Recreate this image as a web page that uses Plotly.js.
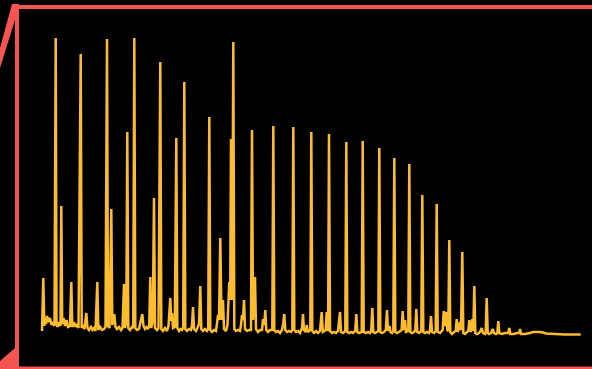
<!DOCTYPE html>
<html>
<head>
<meta charset="utf-8">
<script src="https://cdn.plot.ly/plotly-3.0.1.min.js"></script>
<style>
  html, body { margin: 0; padding: 0; background: #000; }
  #chart { width: 592px; height: 369px; }
</style>
</head>
<body>
<div id="chart"></div>
<script>
// Retention time (min) and detector signal (a.u.)
const retentionTime = [
  4.2, 4.33, 4.43, 4.5, 4.6, 4.7, 4.85, 5.0, 5.15, 5.3, 5.45, 5.57, 5.65, 5.75, 5.9, 6.05, 6.13, 6.22, 6.35, 6.5,
  6.65, 6.8, 7.0, 7.13, 7.23, 7.4, 7.55, 7.7, 7.85, 8.07, 8.17, 8.3, 8.45, 8.63, 8.75, 8.9, 9.1, 9.25, 9.4, 9.55,
  9.73, 9.83, 10.0, 10.2, 10.4, 10.55, 10.7, 10.8, 10.95, 11.13, 11.23, 11.43, 11.55, 11.7, 11.9, 12.1, 12.25, 12.4, 12.5, 12.63,
  12.73, 12.83, 13.0, 13.2, 13.32, 13.43, 13.53, 13.7, 13.9, 14.05, 14.23, 14.35, 14.5, 14.65, 14.8, 14.92, 15.03, 15.12, 15.28, 15.4,
  15.5, 15.7, 15.85, 16.03, 16.13, 16.3, 16.5, 16.7, 16.85, 17.03, 17.12, 17.2, 17.3, 17.48, 17.63, 17.73, 17.9, 18.05, 18.2, 18.32,
  18.43, 18.53, 18.7, 18.9, 19.1, 19.2, 19.3, 19.4, 19.6, 19.75, 19.9, 20.03, 20.13, 20.3, 20.5, 20.7, 20.82, 20.93, 21.03, 21.2,
  21.4, 21.6, 21.72, 21.8, 21.9, 22.03, 22.15, 22.3, 22.4, 22.6, 22.75, 22.83, 22.93, 23.02, 23.1, 23.22, 23.33, 23.43, 23.6, 23.8,
  24.0, 24.1, 24.2, 24.3, 24.4, 24.5, 24.7, 24.9, 25.1, 25.2, 25.3, 25.4, 25.5, 25.6, 25.8, 26.0, 26.2, 26.3, 26.42, 26.53,
  26.63, 26.8, 27.0, 27.23, 27.33, 27.43, 27.6, 27.8, 28.0, 28.2, 28.32, 28.43, 28.53, 28.7, 28.9, 29.1, 29.23, 29.33, 29.43, 29.6,
  29.8, 30.0, 30.2, 30.3, 30.4, 30.6, 30.67, 30.78, 30.9, 31.03, 31.13, 31.23, 31.4, 31.6, 31.8, 32.0, 32.17, 32.28, 32.45, 32.57,
  32.67, 32.76, 32.81, 32.9, 33.0, 33.2, 33.4, 33.6, 33.8, 34.0, 34.1, 34.3, 34.53, 34.63, 34.73, 34.9, 35.1, 35.3, 35.52, 35.63,
  35.73, 35.9, 36.17, 36.27, 36.37, 36.6, 36.8, 37.0, 37.12, 37.23, 37.33, 37.5, 37.7, 37.83, 37.93, 38.03, 38.2, 38.4, 38.58, 38.7,
  38.8, 38.95, 39.05, 39.2, 39.33, 39.43, 39.53, 39.7, 39.9, 40.16, 40.27, 40.37, 40.5, 40.6, 40.83, 40.93, 41.03, 41.2, 41.4, 41.53,
  41.63, 41.73, 41.9, 42.13, 42.23, 42.33, 42.5, 42.7, 42.9, 43.0, 43.1, 43.2, 43.4, 43.57, 43.67, 43.77, 44.0, 44.27, 44.37, 44.48,
  44.63, 44.73, 44.83, 44.93, 45.03, 45.2, 45.4, 45.57, 45.67, 45.77, 45.9, 46.0, 46.1, 46.23, 46.33, 46.5, 46.7, 46.83, 46.93, 47.04,
  47.15, 47.23, 47.33, 47.43, 47.53, 47.7, 47.9, 48.05, 48.17, 48.3, 48.5, 48.57, 48.67, 48.77, 48.9, 49.1, 49.27, 49.4, 49.6, 49.73,
  49.83, 49.93, 50.2, 50.5, 50.83, 50.93, 51.03, 51.4, 51.7, 51.95, 52.0, 52.1, 52.5, 53.0, 53.3, 54.0, 54.3, 54.6, 55.5, 56.5,
  57.3, 58.07
];
const signal = [
  -1, 52, 4, 12, 6, 14, 8, 12, 5, 8, 4, 292, 8, 3, 8, 4, 124, 6, 12, 4,
  10, 3, 4, 48, 3, 8, 3, 6, 2, 276, 2, 5, 1, 17, 2, 0, 3, 0, 2, -1,
  48, 0, 3, 0, 1, 3, 291, 4, 2, 121, 5, 16, 3, 1, 3, 0, 2, 46, 2, 8,
  198, 2, 0, 3, 2, 292, 2, 0, 1, 8, 16, 4, 1, 3, 1, 4, 53, 2, 9, 132,
  2, 0, 2, 268, 1, -1, 2, -1, 4, 32, 9, 17, 2, 3, 192, 2, -1, 1, 0, 2,
  248, 1, -1, 1, 0, 5, 23, 1, -1, 2, 6, 44, 1, -1, 1, -1, 1, 213, 0, -2,
  0, -1, 8, 15, 10, 92, 10, 30, 1, -1, 5, 25, 48, 30, 191, 30, 288, 1, -1, 0,
  -1, 5, 15, 10, 30, 1, -1, 0, 0, 200, 10, 30, 53, 1, -2, 0, 0, 11, 5, 20,
  0, -2, 0, 0, 204, 0, -2, -1, -3, 0, 6, 16, 0, -2, -1, -2, 0, 203, 0, -2,
  -1, -3, 2, 16, 0, -2, 5, -2, -1, 0, 198, -1, -3, -1, -3, -1, 18, -2, -1, 0,
  18, -1, 0, 196, -1, -3, -2, -3, -1, 18, -2, -3, -1, 188, -2, -3, -2, -3, -1, 16,
  -2, -3, -2, 189, -2, -3, -2, -3, -1, 22, -2, -3, -2, -1, 182, -2, -3, -2, 0, 20,
  -1, 4, -2, -3, -1, 172, -2, -3, -2, 0, 19, 0, 10, -2, -1, 166, -2, -3, -2, 0,
  21, -2, -3, -1, 135, -2, -3, -2, -3, 0, 14, -2, -3, -1, 126, -2, -3, 0, 19, 4,
  18, 0, -1, 90, -2, -4, -2, -1, 11, -2, 2, 8, 0, 78, -3, -4, -2, -1, 10, -2,
  0, 11, -1, 44, -3, -4, -3, -1, 2, -3, -4, -2, 32, -3, -4, -3, 1, -3, -4, -3,
  9, -3, -4, -3, -3, 2, -4, -4, -3, -3, 1, -4, -4, -3, -2, -2, -2.5, -3.5, -4, -4.5,
  -4.5, -4.5
];

const W = 592, H = 369;
const RED = '#f55551';
const GOLD = '#fdbb2e';
function P(x, y) { return (x / W).toFixed(5) + ',' + (1 - y / H).toFixed(5); }
function rectShape(x0, y0, x1, y1) {
  return { type: 'rect', xref: 'paper', yref: 'paper', x0: x0 / W, x1: x1 / W, y0: 1 - y1 / H, y1: 1 - y0 / H,
           fillcolor: RED, line: { width: 0 }, layer: 'above' };
}
function pathShape(pts) {
  return { type: 'path', xref: 'paper', yref: 'paper',
           path: 'M' + pts.map(p => P(p[0], p[1])).join(' L') + ' Z',
           fillcolor: RED, line: { width: 0 }, layer: 'above' };
}

const trace = {
  x: retentionTime, y: signal, type: 'scatter', mode: 'lines',
  line: { color: GOLD, width: 2.5, simplify: false }, hoverinfo: 'skip'
};

const layout = {
  width: W, height: H,
  margin: { l: 0, r: 0, t: 0, b: 0 },
  paper_bgcolor: '#000', plot_bgcolor: '#000',
  showlegend: false,
  xaxis: { range: [0, 59.2], visible: false, fixedrange: true },
  yaxis: { range: [-39, 330], visible: false, fixedrange: true },
  shapes: [
    rectShape(13, 5, 592, 9),
    rectShape(15, 4, 19, 369),
    rectShape(0, 366.5, 592, 369),
    pathShape([[12, 4], [18, 4], [18, 10], [0, 68], [0, 48]]),
    pathShape([[0, 369], [0, 361], [15, 348], [15, 369]])
  ]
};

Plotly.newPlot('chart', [trace], layout, { staticPlot: true, displayModeBar: false });
</script>
</body>
</html>
